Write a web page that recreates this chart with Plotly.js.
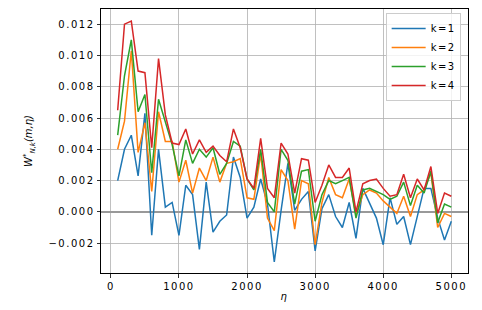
<!DOCTYPE html>
<html>
<head>
<meta charset="utf-8">
<script src="https://cdn.plot.ly/plotly-3.0.1.min.js"></script>
<style>
html,body{margin:0;padding:0;background:#fff;}
#chart{width:482px;height:310px;}
#chart .xtick text, #chart .ytick text, #chart .legendtext, #chart .xtitle {letter-spacing:1.5px;}
</style>
</head>
<body>
<div id="chart"></div>
<script>
const eta = [100,200,300,400,500,600,700,800,900,1000,1100,1200,1300,1400,1500,1600,1700,1800,1900,2000,2100,2200,2300,2400,2500,2600,2700,2800,2900,3000,3100,3200,3300,3400,3500,3600,3700,3800,3900,4000,4100,4200,4300,4400,4500,4600,4700,4800,4900,5000];
const k1 = [0.0020,0.0040,0.0049,0.0023,0.0063,-0.0015,0.0040,0.0003,0.0006,-0.0015,0.0017,0.0011,-0.0024,0.0019,-0.0013,-0.0006,-0.0002,0.0035,0.0022,-0.0004,0.0003,0.0021,0.0005,-0.0032,0.0001,0.0031,0.0001,0.0008,0.0013,-0.0025,0.0002,0.0011,-0.0003,-0.0010,0.0006,-0.0017,0.0015,0.0006,-0.0004,-0.0021,0.0009,-0.0008,-0.0003,-0.0021,-0.0002,0.0015,0.0015,-0.0004,-0.0018,-0.0006];
const k2 = [0.0040,0.0058,0.0103,0.0038,0.0057,0.0013,0.0064,0.0045,0.0045,0.0019,0.0033,0.0012,0.0028,0.0020,0.0035,0.0019,0.0031,0.0032,0.0034,0.0009,0.0008,0.0037,-0.0004,-0.0012,0.0027,0.0020,-0.0011,0.0020,0.0018,-0.0021,0.0006,0.0022,0.0011,0.0009,0.0021,-0.0002,0.0011,0.0014,0.0012,0.0007,0.0003,-0.0001,0.0010,-0.0003,0.0011,0.0014,0.0025,-0.0010,-0.0001,-0.0003];
const k3 = [0.0049,0.0087,0.0110,0.0064,0.0075,0.0025,0.0072,0.0058,0.0043,0.0023,0.0046,0.0031,0.0040,0.0035,0.0041,0.0024,0.0031,0.0045,0.0042,0.0021,0.0014,0.0040,0.0006,0.0000,0.0040,0.0033,0.0005,0.0026,0.0027,-0.0006,0.0011,0.0020,0.0018,0.0020,0.0022,-0.0004,0.0014,0.0015,0.0013,0.0011,0.0008,0.0010,0.0019,0.0004,0.0017,0.0012,0.0026,-0.0007,0.0005,0.0003];
const k4 = [0.0065,0.0120,0.0122,0.0090,0.0089,0.0041,0.0098,0.0062,0.0044,0.0043,0.0053,0.0037,0.0046,0.0038,0.0042,0.0036,0.0032,0.0053,0.0041,0.0021,0.0015,0.0047,0.0015,0.0009,0.0044,0.0037,0.0012,0.0034,0.0033,0.0006,0.0017,0.0030,0.0022,0.0022,0.0028,0.0000,0.0018,0.0020,0.0021,0.0015,0.0010,0.0011,0.0024,0.0009,0.0021,0.0014,0.0029,-0.0001,0.0012,0.0010];
const seriesNames = ['k=1','k=2','k=3','k=4'];
const colors = ['#1f77b4','#ff7f0e','#2ca02c','#d62728'];
const xTicks = [0,1000,2000,3000,4000,5000];
const yTicks = [-0.002,0.000,0.002,0.004,0.006,0.008,0.010,0.012];
const yTickText = ['\u22120.002','0.000','0.002','0.004','0.006','0.008','0.010','0.012'];

const data = [k1,k2,k3,k4].map((ys,i)=>({
  x: eta, y: ys, type:'scatter', mode:'lines', name: seriesNames[i] + '\u00a0',
  line:{color:colors[i], width:1.5}
}));

const font = {family:'DejaVu Sans, sans-serif', size:10, color:'#000'};
const layout = {
  width:482, height:310,
  margin:{l:101, r:14, t:9, b:37},
  paper_bgcolor:'#fff', plot_bgcolor:'#fff',
  font: font,
  showlegend:true,
  legend:{x:0.98, y:0.985, xanchor:'right', yanchor:'top', bgcolor:'rgba(255,255,255,0.8)',
    bordercolor:'#cccccc', borderwidth:1, font:{family:'DejaVu Sans, sans-serif', size:10},
    tracegroupgap:0, itemwidth:34},
  xaxis:{range:[-145,5245], tickvals:xTicks, ticktext:xTicks.map(String),
    showgrid:true, gridcolor:'#b0b0b0', gridwidth:0.8, zeroline:false,
    showline:true, mirror:true, linecolor:'#000', linewidth:1,
    ticks:'outside', ticklen:3.5, tickcolor:'#000', tickwidth:0.8,
    title:{text:'<i>η</i>', font:{family:'DejaVu Sans, sans-serif', size:10}, standoff:2}},
  yaxis:{range:[-0.00391,0.01297], tickvals:yTicks, ticktext:yTickText,
    showgrid:true, gridcolor:'#b0b0b0', gridwidth:0.8,
    zeroline:true, zerolinecolor:'#999999', zerolinewidth:1.5,
    showline:true, mirror:true, linecolor:'#000', linewidth:1,
    ticks:'outside', ticklen:3.5, tickcolor:'#000', tickwidth:0.8,
    title:{text:'<i>W</i><sup>*</sup><sub><i>N,k</i></sub><i>(m,η)</i>', font:{family:'DejaVu Sans, sans-serif', size:10}, standoff:22}}
};
Plotly.newPlot('chart', data, layout, {displayModeBar:false, staticPlot:true});
</script>
</body>
</html>
